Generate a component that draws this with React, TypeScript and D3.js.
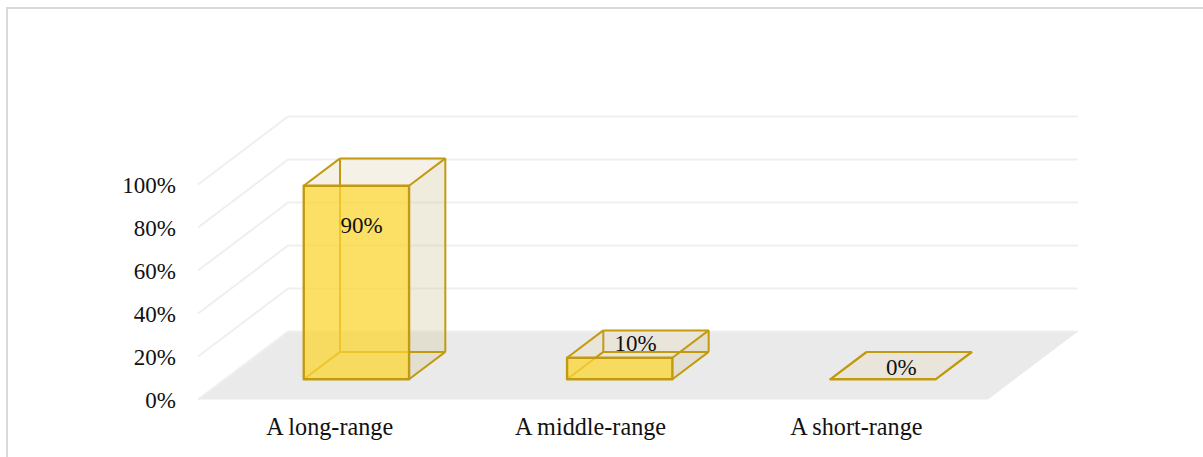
import React from "react";
import * as d3 from "d3";

const categories = ["A long-range", "A middle-range", "A short-range"];
const shares = [90, 10, 0];
const tickValues = [0, 20, 40, 60, 80, 100];

const STROKE = "#C29A10";
const serif = "'Liberation Serif', 'Times New Roman', serif";

// Oblique projection: the floor recedes up and to the right.
const xBand = d3.scaleBand<string>().domain(categories).range([198, 988]).paddingInner(0.6).paddingOuter(0.3);
const yValue = d3.scaleLinear().domain([0, 100]).range([399.5, 184.5]);
const depthX = d3.scaleLinear().domain([0, 1]).range([0, 90]);
const depthY = d3.scaleLinear().domain([0, 1]).range([0, -68]);
const BAR_DEPTH_FRONT = 0.297;
const BAR_DEPTH_BACK = 0.7;

type Pt = [number, number];
const project = (x: number, v: number, z: number): Pt => [x + depthX(z), yValue(v) + depthY(z)];
const poly = (pts: Pt[]) => d3.line()(pts)! + "Z";
const seg = (a: Pt, b: Pt) => d3.line()([a, b])!;

function Bar({ name, value }: { name: string; value: number }) {
  const x0 = xBand(name)!;
  const x1 = x0 + xBand.bandwidth();
  const f = BAR_DEPTH_FRONT;
  const b = BAR_DEPTH_BACK;
  const fbl = project(x0, 0, f), fbr = project(x1, 0, f), ftl = project(x0, value, f), ftr = project(x1, value, f);
  const bbl = project(x0, 0, b), bbr = project(x1, 0, b), btl = project(x0, value, b), btr = project(x1, value, b);
  const hidden = [seg(bbl, btl), seg(bbl, bbr), seg(bbl, fbl)];
  const visible = [seg(fbr, bbr), seg(bbr, btr), seg(btl, btr), seg(ftl, btl), seg(ftr, btr)];
  return (
    <g strokeLinejoin="round">
      {value > 0 && <path d={poly([fbr, bbr, btr, ftr])} fill="#D7CDAA" fillOpacity={0.4} />}
      <path d={poly([ftl, ftr, btr, btl])} fill="#EBE1C8" fillOpacity={0.45} />
      {hidden.map((d, i) => <path key={i} d={d} fill="none" stroke={STROKE} strokeWidth={2} />)}
      {value > 0 && <path d={poly([fbl, fbr, ftr, ftl])} fill="#FBD633" fillOpacity={0.75} />}
      {visible.map((d, i) => <path key={i} d={d} fill="none" stroke={STROKE} strokeWidth={2} />)}
      <path d={poly([fbl, fbr, ftr, ftl])} fill="none" stroke={STROKE} strokeWidth={2.4} />
    </g>
  );
}

// Value labels sit just behind each bar's centre; the tall bar's label hangs below its top.
const labelOffset = (i: number): Pt => (i === 0 ? [-13, 61] : i === 1 ? [-2.5, 7] : [0, 9.5]);
const categoryNudge = (i: number) => (i === 1 ? -2.5 : 0);

export default function App() {
  const floor = [project(198, 0, 0), project(988, 0, 0), project(988, 0, 1), project(198, 0, 1)];
  return (
    <svg
      width={1203}
      height={457}
      style={{ position: "absolute", left: 0, top: 0, display: "block", background: "#fff" }}
    >
      <path d="M7,457V8H1203" fill="none" stroke="#DADADA" strokeWidth={2} />

      <path d={poly(floor)} fill="#EAEAEA" />

      {tickValues.map(t => {
        const corner = project(198, t, 1);
        const end: Pt = [1078, corner[1]];
        return (
          <path
            key={t}
            d={d3.line()([project(198, t, 0), corner, end])!}
            fill="none"
            stroke="#EFEFEF"
            strokeWidth={2}
          />
        );
      })}

      {categories.map((c, i) => <Bar key={c} name={c} value={shares[i]} />)}

      {categories.map((c, i) => {
        const cx = xBand(c)! + xBand.bandwidth() / 2;
        const [lx, ly] = project(cx, shares[i], 0.5);
        const [ox, oy] = labelOffset(i);
        return (
          <text key={c} x={lx + ox} y={ly + oy} textAnchor="middle" fontFamily={serif} fontSize={23} fill="#111">
            {shares[i]}%
          </text>
        );
      })}

      {tickValues.map(t => (
        <text key={t} x={176} y={yValue(t) + 8} textAnchor="end" fontFamily={serif} fontSize={23} fill="#111">
          {t}%
        </text>
      ))}

      {categories.map((c, i) => (
        <text key={c} x={xBand(c)! + xBand.bandwidth() / 2 + categoryNudge(i)} y={435} textAnchor="middle" fontFamily={serif} fontSize={24.2} fill="#111">
          {c}
        </text>
      ))}
    </svg>
  );
}
